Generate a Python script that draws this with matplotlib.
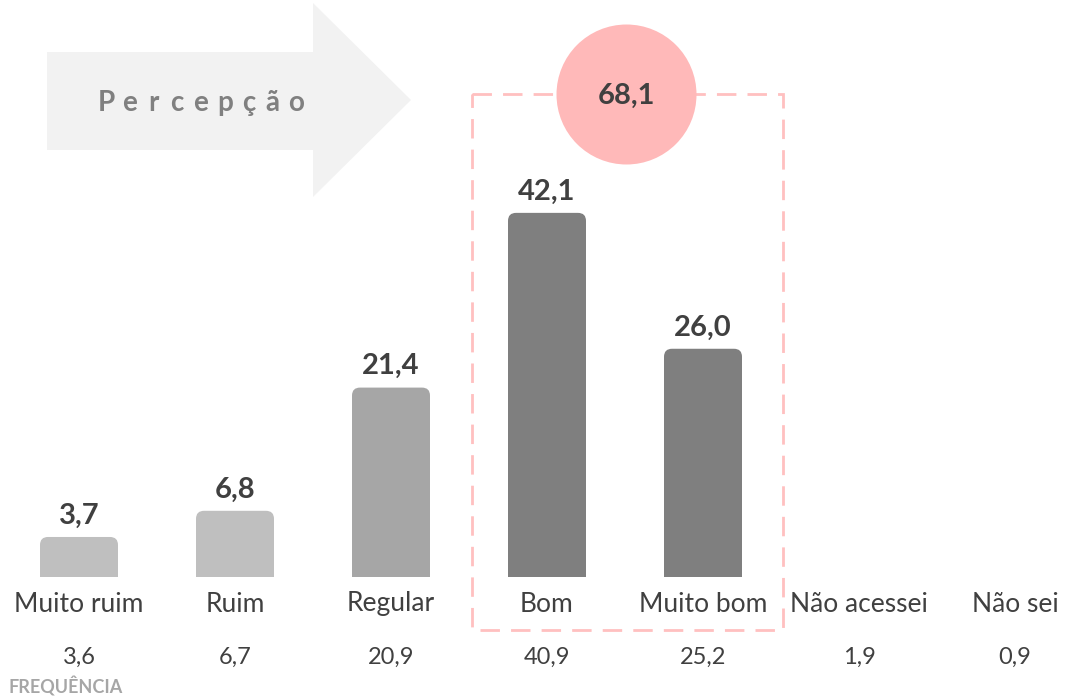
import matplotlib
matplotlib.use("Agg")
import matplotlib.pyplot as plt
from matplotlib.patches import FancyBboxPatch, Rectangle, Polygon, Circle
import numpy as np

plt.rcParams['font.family'] = ['Lato', 'DejaVu Sans']

# data
categorias = ["Muito ruim", "Ruim", "Regular", "Bom", "Muito bom", "Não acessei", "Não sei"]
percepcao = [3.7, 6.8, 21.4, 42.1, 26.0]          # bars (valid answers only)
frequencia = ["3,6", "6,7", "20,9", "40,9", "25,2", "1,9", "0,9"]
positivo = 68.1                                    # Bom + Muito bom
cores = ["#bfbfbf", "#bfbfbf", "#a6a6a6", "#7f7f7f", "#7f7f7f"]

W, H = 1068, 699
fig = plt.figure(figsize=(W / 100, H / 100), dpi=100)

# main axes covering the whole figure; x/y limits place the bars
ax = fig.add_axes([0, 0, 1, 1])
x0px, dx = 79, 156          # centre of first bar, spacing
y0px, ky = 568.2, 8.44      # pixel row of value 0, pixels per unit
ax.set_xlim(-x0px / dx, (W - x0px) / dx)
ax.set_ylim((y0px - H) / ky, y0px / ky)
ax.axis('off')
base = (y0px - 577) / ky    # visible bottom of bars

bw = 78 / dx
rad = 8 / dx
aspect = dx / ky
clip = Rectangle((-1, base), 10, 100, transform=ax.transData)
for i, (v, c) in enumerate(zip(percepcao, cores)):
    p = FancyBboxPatch((i - bw / 2, base - 5), bw, v - base + 5,
                       boxstyle=f"round,pad=0,rounding_size={rad}",
                       mutation_aspect=aspect, fc=c, ec='none')
    ax.add_patch(p)
    p.set_clip_path(clip)
    ax.annotate(f"{v:.1f}".replace('.', ','), (i, v), xytext=(0, 6),
                textcoords='offset points', ha='center', va='bottom',
                fontsize=21, fontweight='bold', color='#404040')

# overlay in pixel coordinates for labels and shapes
ov = fig.add_axes([0, 0, 1, 1], facecolor='none')
ov.set_xlim(0, W)
ov.set_ylim(H, 0)
ov.axis('off')

for i, (cat, f) in enumerate(zip(categorias, frequencia)):
    xc = x0px + dx * i
    ov.text(xc, 604, cat, ha='center', va='center', fontsize=19, color='#404040')
    ov.text(xc, 657, f, ha='center', va='center', fontsize=17, color='#404040')

ov.text(8, 687, "FREQUÊNCIA", ha='left', va='center', fontsize=13,
        fontweight='bold', color='#a6a6a6')

# arrow
arrow = Polygon([(47, 52), (313, 52), (313, 3), (411, 100), (313, 197),
                 (313, 150), (47, 150)], closed=True, fc='#f2f2f2', ec='none')
ov.add_patch(arrow)
for j, ch in enumerate("Percepção"):
    ov.text(106 + j * 23.75, 103, ch, ha='center', va='center', fontsize=20,
            fontweight='bold', color='#808080')

# dashed box around Bom + Muito bom
ov.add_patch(Rectangle((472, 94), 311, 536, fill=False, ec='#ffc0c0', lw=2,
                       ls=(0, (7, 4))))
ov.add_patch(Circle((626.5, 94.5), 70, fc='#ffb9b9', ec='none', zorder=3))
ov.text(626.5, 96, f"{positivo:.1f}".replace('.', ','), ha='center', va='center',
        fontsize=21, fontweight='bold', color='#404040', zorder=4)

fig.savefig("out.png", dpi=100)
